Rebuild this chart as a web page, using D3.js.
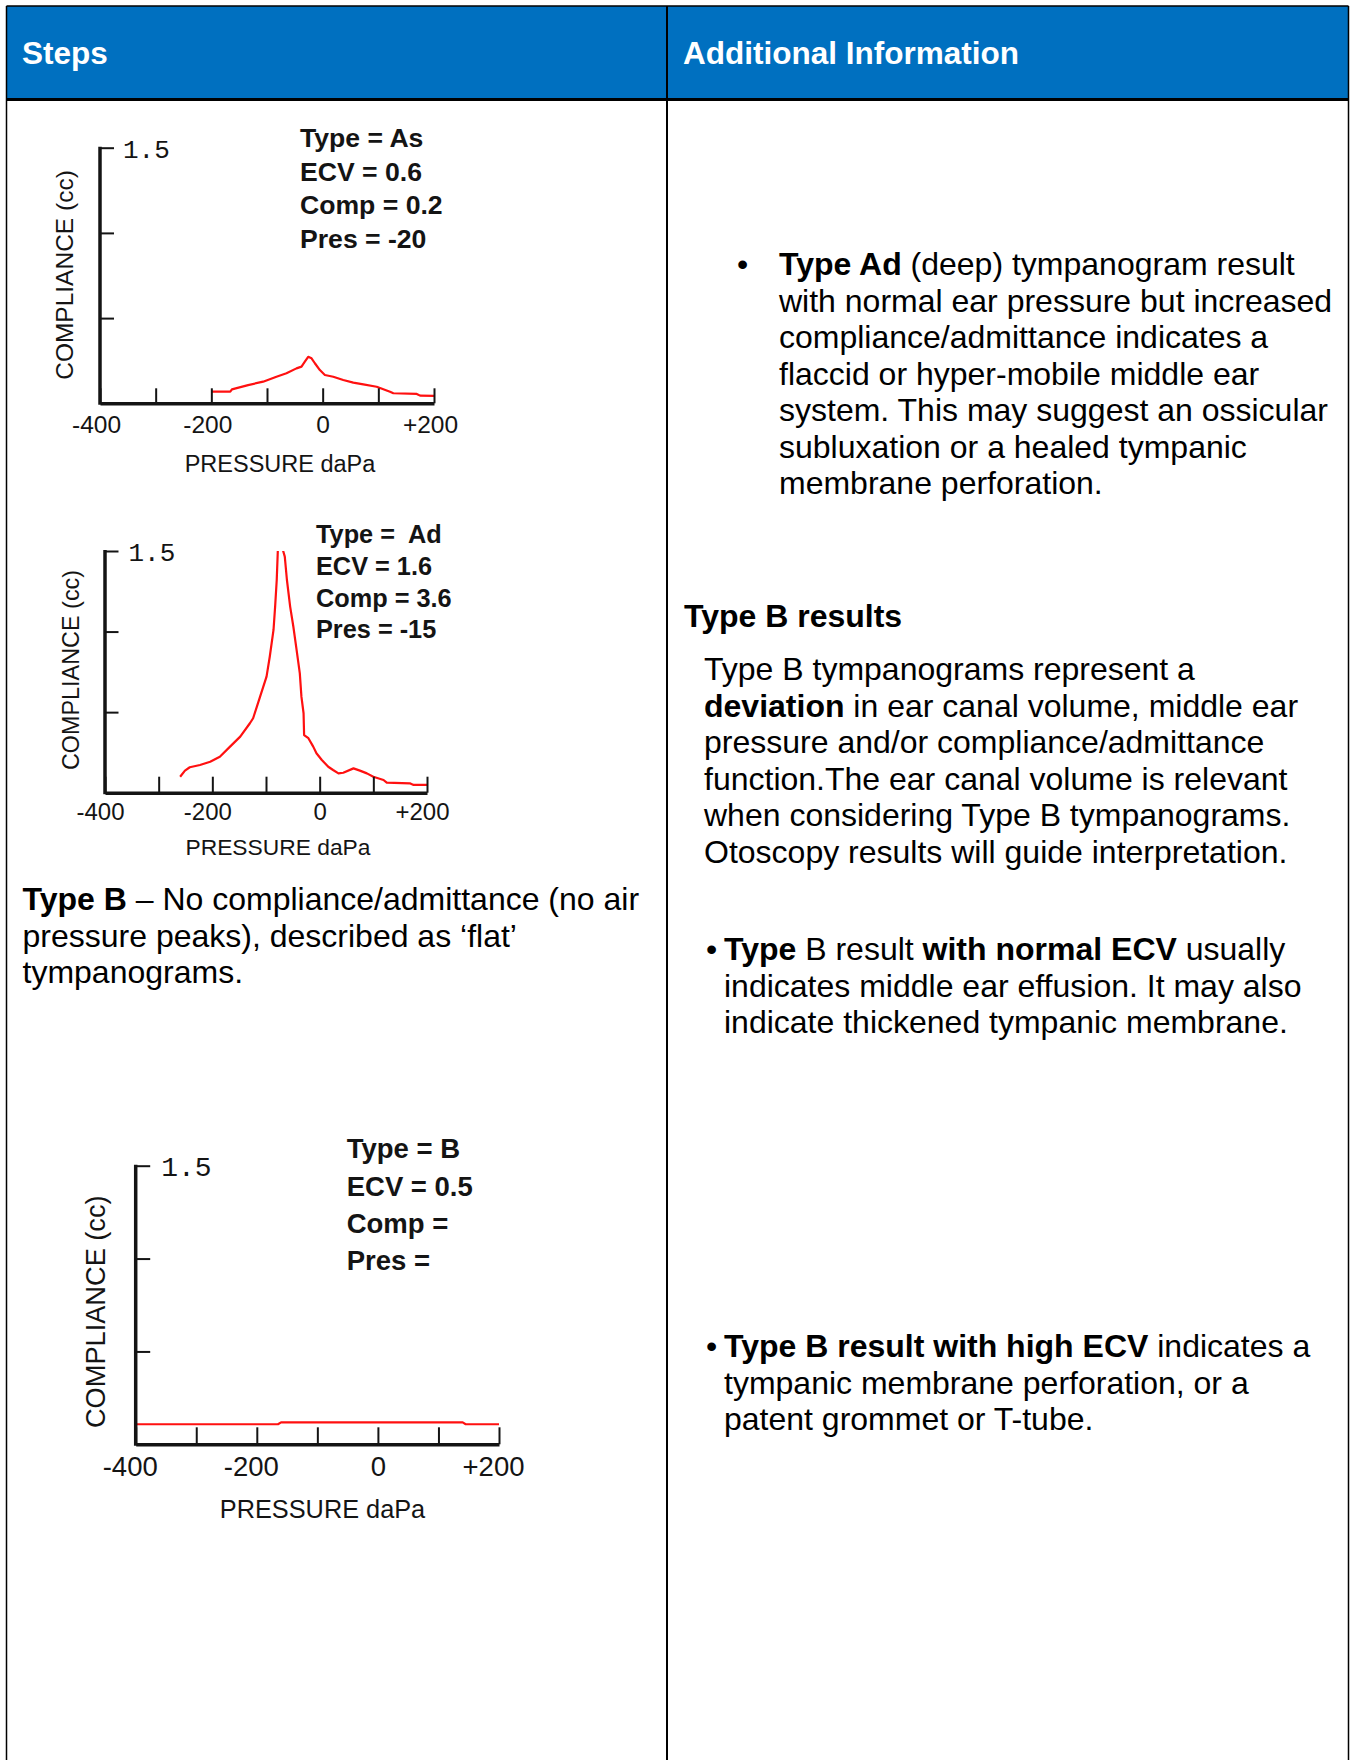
<!DOCTYPE html>
<html>
<head>
<meta charset="utf-8">
<script src="https://cdn.jsdelivr.net/npm/d3@7"></script>
<style>
  html, body { margin: 0; padding: 0; background: #ffffff; }
  svg { display: block; font-family: "Liberation Sans", Arial, sans-serif; }
</style>
</head>
<body>
<svg id="page" width="1351" height="1760"></svg>
<script>
// ---------------- DATA ----------------
const pressureTicks = [-400, -300, -200, -100, 0, 100, 200];
const pressureLabelled = [-400, -200, 0, 200];
const complianceTicks = [0.5, 1.0, 1.5];
const complianceLabelled = [1.5];

// Type As tympanogram
const asPressure   = [-200, -166, -163, -134, -107, -83, -65, -47, -38, -32, -26, -20, -14, -5, 4, 19, 37, 55, 73, 97, 121, 127, 169, 175, 200];
const asCompliance = [0.068, 0.068, 0.082, 0.107, 0.127, 0.156, 0.176, 0.205, 0.215, 0.244, 0.273, 0.264, 0.235, 0.195, 0.166, 0.156, 0.137, 0.121, 0.111, 0.097, 0.068, 0.059, 0.055, 0.045, 0.043];
const asInfo = ["Type = As", "ECV = 0.6", "Comp = 0.2", "Pres = -20"];

// Type Ad tympanogram (peak runs off the top of the chart)
const adPressure   = [-260, -251, -242, -223, -204, -186, -167, -148, -130, -124, -117, -111, -99, -93, -86, -83, -80, -78, -73, -68, -65, -61, -55, -49, -43, -37, -34, -30, -29, -21, -12, -6, 4, 16, 25, 35, 44, 63, 75, 88, 100, 119, 125, 168, 175, 200];
const adCompliance = [0.099, 0.137, 0.158, 0.172, 0.192, 0.223, 0.286, 0.348, 0.431, 0.462, 0.534, 0.596, 0.72, 0.844, 1.01, 1.155, 1.32, 1.5, 3.7, 1.5, 1.465, 1.32, 1.155, 1.03, 0.886, 0.741, 0.596, 0.493, 0.358, 0.338, 0.286, 0.245, 0.203, 0.161, 0.141, 0.12, 0.124, 0.151, 0.137, 0.12, 0.099, 0.079, 0.062, 0.058, 0.048, 0.048];
const adInfo = ["Type =  Ad", "ECV = 1.6", "Comp = 3.6", "Pres = -15"];

// Type B tympanogram (flat)
const bPressure   = [-400, -165, -160, 140, 145, 200];
const bCompliance = [0.108, 0.108, 0.118, 0.118, 0.108, 0.108];
const bInfo = ["Type = B", "ECV = 0.5", "Comp =", "Pres ="];

// Table text
const headerLabels = ["Steps", "Additional Information"];
const typeBIntro = [
  [["Type B", true], [" \u2013 No compliance/admittance (no air", false]],
  [["pressure peaks), described as \u2018flat\u2019", false]],
  [["tympanograms.", false]]
];
const adBullet = [
  [["Type Ad", true], [" (deep) tympanogram result", false]],
  [["with normal ear pressure but increased", false]],
  [["compliance/admittance indicates a", false]],
  [["flaccid or hyper-mobile middle ear", false]],
  [["system. This may suggest an ossicular", false]],
  [["subluxation or a healed tympanic", false]],
  [["membrane perforation.", false]]
];
const typeBHeading = "Type B results";
const typeBPara = [
  [["Type B tympanograms represent a", false]],
  [["deviation", true], [" in ear canal volume, middle ear", false]],
  [["pressure and/or compliance/admittance", false]],
  [["function.The ear canal volume is relevant", false]],
  [["when considering Type B tympanograms.", false]],
  [["Otoscopy results will guide interpretation.", false]]
];
const normalEcvBullet = [
  [["Type", true], [" B result ", false], ["with normal ECV", true], [" usually", false]],
  [["indicates middle ear effusion. It may also", false]],
  [["indicate thickened tympanic membrane.", false]]
];
const highEcvBullet = [
  [["Type B result with high ECV", true], [" indicates a", false]],
  [["tympanic membrane perforation, or a", false]],
  [["patent grommet or T-tube.", false]]
];

// ---------------- DRAWING ----------------
const W = 1351, H = 1760;
const SANS = "'Liberation Sans', Arial, sans-serif";
const MONO = "'Liberation Mono', 'Courier New', monospace";
const svg = d3.select("#page");
svg.append("rect").attr("width", W).attr("height", H).attr("fill", "#ffffff");

// Table frame
const tblLeft = 6.5, tblRight = 1348.5, colDiv = 667, tblTop = 6, headBottom = 99.5;
svg.append("rect").attr("x", tblLeft).attr("y", tblTop).attr("width", tblRight - tblLeft).attr("height", headBottom - tblTop)
  .attr("fill", "#0070c0");
const frame = svg.append("g").attr("stroke", "#000").attr("fill", "none");
frame.append("line").attr("x1", tblLeft).attr("x2", tblRight).attr("y1", tblTop).attr("y2", tblTop).attr("stroke-width", 1.5);
frame.append("line").attr("x1", tblLeft).attr("x2", tblRight).attr("y1", headBottom).attr("y2", headBottom).attr("stroke-width", 3);
frame.append("line").attr("x1", tblLeft).attr("x2", tblLeft).attr("y1", tblTop).attr("y2", H).attr("stroke-width", 1.5);
frame.append("line").attr("x1", tblRight).attr("x2", tblRight).attr("y1", tblTop).attr("y2", H).attr("stroke-width", 1.5);
frame.append("line").attr("x1", colDiv).attr("x2", colDiv).attr("y1", tblTop).attr("y2", H).attr("stroke-width", 2);

// Header labels
svg.append("text").attr("x", 22).attr("y", 64).attr("fill", "#fff").attr("font-weight", "bold").attr("font-size", 31.5).text(headerLabels[0]);
svg.append("text").attr("x", 683).attr("y", 64).attr("fill", "#fff").attr("font-weight", "bold").attr("font-size", 31.5).text(headerLabels[1]);

// Paragraph helper
function paragraph(lines, x, y0, lh, size) {
  const g = svg.append("g");
  lines.forEach((segs, i) => {
    const t = g.append("text").attr("x", x).attr("y", y0 + i * lh).attr("font-size", size).attr("fill", "#000")
      .style("white-space", "pre");
    segs.forEach(([s, b]) => t.append("tspan").attr("font-weight", b ? "bold" : "normal").text(s));
  });
  return g;
}
function bullet(x, y, size) {
  svg.append("text").attr("x", x).attr("y", y).attr("font-size", size).attr("fill", "#000").text("\u2022");
}

const bodySize = 32, lh = 36.5;
paragraph(typeBIntro, 22.5, 910, lh, bodySize);
bullet(737, 275, bodySize);
paragraph(adBullet, 779, 275, lh, bodySize);
svg.append("text").attr("x", 684).attr("y", 627).attr("font-size", bodySize).attr("font-weight", "bold").attr("fill", "#000").text(typeBHeading);
paragraph(typeBPara, 704, 680, lh, bodySize);
bullet(706, 960, bodySize);
paragraph(normalEcvBullet, 724, 960, lh, bodySize);
bullet(706, 1357, bodySize);
paragraph(highEcvBullet, 724, 1357, lh, bodySize);

// Tympanogram helper
function tympanogram(cfg) {
  const x = d3.scaleLinear().domain([-400, 200]).range([cfg.x0, cfg.x1]);
  const y = d3.scaleLinear().domain([0, 1.5]).range([cfg.y0, cfg.y1]);
  const g = svg.append("g");
  const ink = "#141414";

  // curve (clipped to plot area)
  const clipId = "clip" + cfg.id;
  g.append("clipPath").attr("id", clipId).append("rect")
    .attr("x", cfg.x0).attr("y", cfg.y1).attr("width", cfg.x1 - cfg.x0 + 2).attr("height", cfg.y0 - cfg.y1);
  const pts = cfg.px.map((p, i) => [p, cfg.py[i]]);
  g.append("path").datum(pts)
    .attr("clip-path", `url(#${clipId})`)
    .attr("fill", "none").attr("stroke", "#ff1010").attr("stroke-width", 2.2).attr("stroke-linejoin", "round")
    .attr("d", d3.line().x(d => x(d[0])).y(d => y(d[1])));

  // x axis
  const xa = d3.axisBottom(x).tickValues(pressureTicks).tickSizeInner(-cfg.xTick).tickSizeOuter(0)
    .tickPadding(cfg.xPad)
    .tickFormat(d => pressureLabelled.includes(d) ? (d > 0 ? "+" + d : String(d)) : "");
  const gx = g.append("g").attr("transform", `translate(0,${cfg.y0})`).call(xa);
  gx.select(".domain").attr("stroke", ink).attr("stroke-width", 3.5);
  gx.selectAll(".tick line").attr("stroke", ink).attr("stroke-width", 2);
  gx.selectAll(".tick text").style("font-family", SANS)
    .style("font-size", cfg.tickFont + "px").attr("fill", ink)
    .attr("dx", d => d === 0 ? 0 : -cfg.labelShift);

  // y axis
  const ya = d3.axisRight(y).tickValues(complianceTicks).tickSizeInner(cfg.yTick).tickSizeOuter(0)
    .tickPadding(cfg.yPad)
    .tickFormat(d => complianceLabelled.includes(d) ? d3.format(".1f")(d) : "");
  const gy = g.append("g").attr("transform", `translate(${cfg.x0},0)`).call(ya);
  gy.select(".domain").attr("stroke", ink).attr("stroke-width", 3.5)
    .attr("d", `M0,${cfg.y0 + 1.5}V${cfg.y1 - 1}`);
  gy.selectAll(".tick line").attr("stroke", ink).attr("stroke-width", 2);
  gy.selectAll(".tick text").style("font-family", MONO)
    .style("font-size", cfg.monoFont + "px").attr("fill", ink).attr("dy", cfg.monoDy);

  // axis titles
  g.append("text").attr("x", cfg.xTitleX).attr("y", cfg.xTitleY).attr("text-anchor", "middle")
    .style("font-family", SANS).style("font-size", cfg.titleFont + "px").attr("fill", ink).text("PRESSURE daPa");
  g.append("text").attr("transform", `translate(${cfg.yTitleX},${cfg.yTitleY}) rotate(-90)`).attr("text-anchor", "middle")
    .style("font-family", SANS).style("font-size", cfg.yTitleFont + "px").attr("fill", ink).text("COMPLIANCE (cc)");

  // info block
  cfg.info.forEach((s, i) => {
    g.append("text").attr("x", cfg.infoX).attr("y", cfg.infoY + i * cfg.infoLh)
      .style("font-family", SANS).style("font-size", cfg.infoFont + "px").attr("font-weight", "bold").attr("fill", ink)
      .style("white-space", "pre").text(s);
  });
}

tympanogram({
  id: "As", px: asPressure, py: asCompliance, info: asInfo,
  x0: 100, x1: 434, y0: 403.3, y1: 147.7,
  xTick: 15, xPad: 12.5, tickFont: 24.5, labelShift: 4,
  yTick: 14, yPad: 9, monoFont: 26, monoDy: "0.36em",
  xTitleX: 280, xTitleY: 471.5, titleFont: 23.5,
  yTitleX: 73, yTitleY: 275, yTitleFont: 24.5,
  infoX: 300, infoY: 146.7, infoLh: 33.8, infoFont: 26.6
});

tympanogram({
  id: "Ad", px: adPressure, py: adCompliance, info: adInfo,
  x0: 105, x1: 427, y0: 792.7, y1: 551,
  xTick: 16, xPad: 10.5, tickFont: 24, labelShift: 5,
  yTick: 13.5, yPad: 10, monoFont: 26, monoDy: "0.36em",
  xTitleX: 278, xTitleY: 855, titleFont: 22.8,
  yTitleX: 78.5, yTitleY: 670, yTitleFont: 23.4,
  infoX: 316, infoY: 543.3, infoLh: 31.7, infoFont: 25.3
});

tympanogram({
  id: "B", px: bPressure, py: bCompliance, info: bInfo,
  x0: 135.7, x1: 499, y0: 1444.3, y1: 1165.7,
  xTick: 17, xPad: 12.5, tickFont: 27.5, labelShift: 6,
  yTick: 14.5, yPad: 11, monoFont: 28, monoDy: "0.36em",
  xTitleX: 322.5, xTitleY: 1518.3, titleFont: 25.3,
  yTitleX: 104.5, yTitleY: 1311.7, yTitleFont: 27.2,
  infoX: 346.7, infoY: 1158.3, infoLh: 37.2, infoFont: 27.5
});
</script>
</body>
</html>
